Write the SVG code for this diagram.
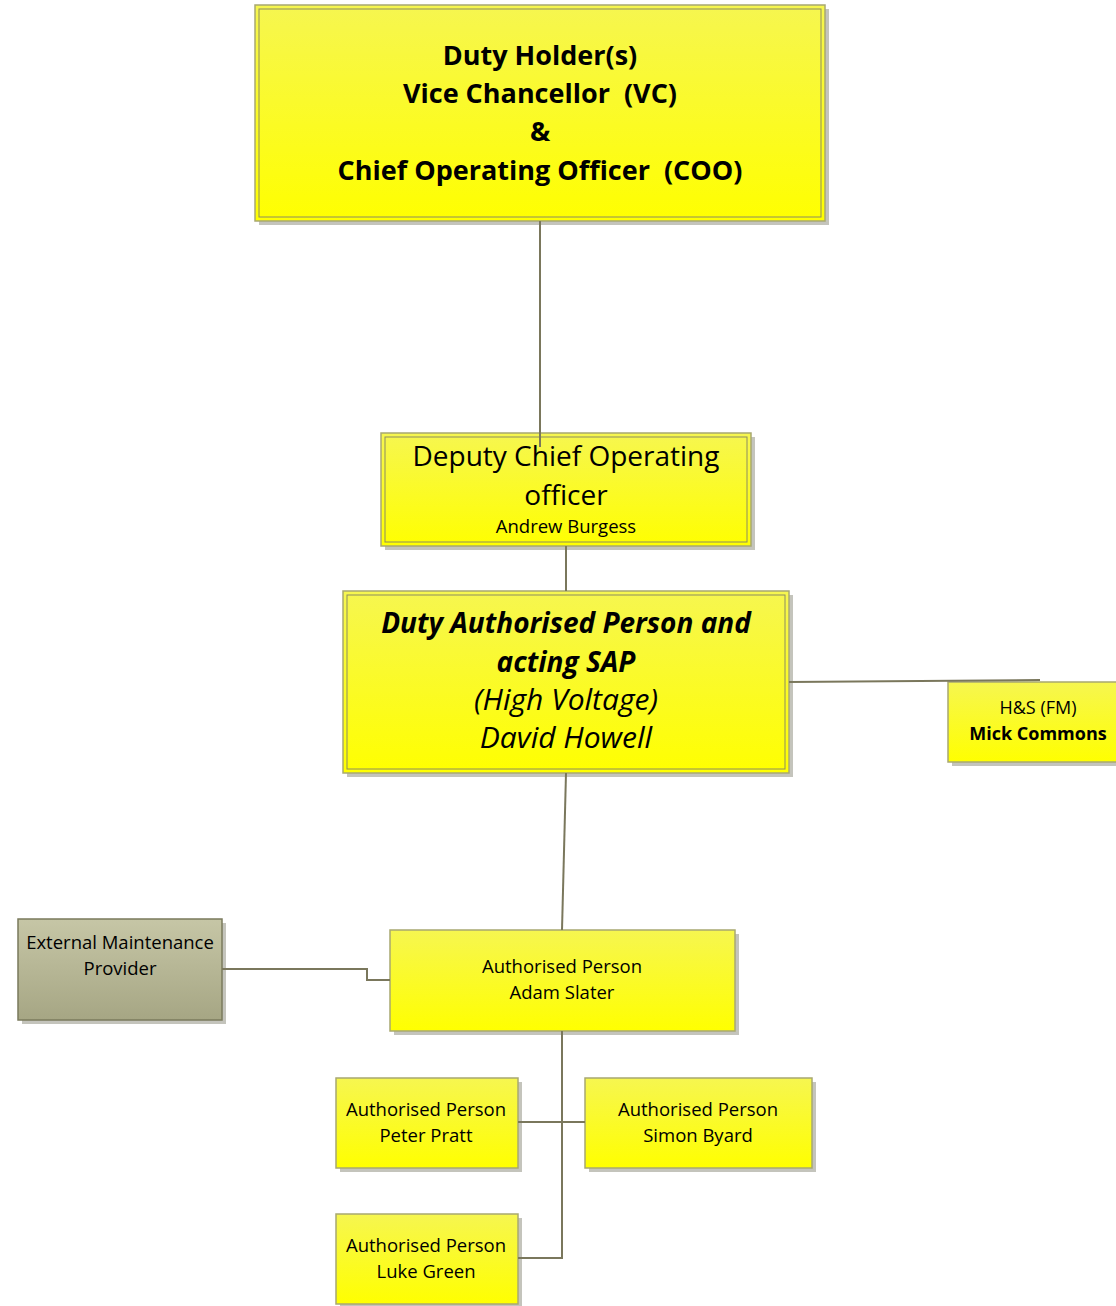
<svg xmlns="http://www.w3.org/2000/svg" width="1116" height="1306" viewBox="0 0 1116 1306">
<defs>
<linearGradient id="gy" x1="0" y1="0" x2="0" y2="1"><stop offset="0" stop-color="#f6f650"/><stop offset="1" stop-color="#ffff00"/></linearGradient>
<linearGradient id="go" x1="0" y1="0" x2="0" y2="1"><stop offset="0" stop-color="#c6c6a6"/><stop offset="1" stop-color="#a6a684"/></linearGradient>
</defs>
<style>
.sh{fill:#c4c4bc}
.bx{fill:url(#gy);stroke:#a8a870;stroke-width:1.5}
.in{fill:none;stroke:#8c8c60;stroke-width:1}
.ob{fill:url(#go);stroke:#7a7a5c;stroke-width:1.5}
text{font-family:"Open Sans","Liberation Sans",sans-serif;fill:#000;text-anchor:middle;white-space:pre}
.b{font-weight:bold}
.i{font-style:italic}
.s{font-size:18.5px}
.c{fill:none;stroke:#7a775c;stroke-width:2}
</style>
<g id="duty-holder">
<rect class="sh" x="259" y="9" width="570" height="216"/>
<rect class="bx" x="255" y="5" width="570" height="216"/>
<rect class="in" x="259" y="9" width="562" height="208"/>
<text class="b" font-size="27" x="540" y="65">Duty Holder(s)</text>
<text class="b" font-size="27" x="540" y="103" xml:space="preserve">Vice Chancellor  (VC)</text>
<text class="b" font-size="27" x="540" y="141">&amp;</text>
<text class="b" font-size="27" x="540" y="180" xml:space="preserve">Chief Operating Officer  (COO)</text>
</g>
<g id="deputy-coo">
<rect class="sh" x="385" y="437" width="370" height="113"/>
<rect class="bx" x="381" y="433" width="370" height="113"/>
<rect class="in" x="385" y="437" width="362" height="105"/>
<text font-size="28" x="566" y="466">Deputy Chief Operating</text>
<text font-size="28" x="566" y="505">officer</text>
<text font-size="18.5" x="566" y="533">Andrew Burgess</text>
</g>
<g id="duty-ap">
<rect class="sh" x="347" y="595" width="446" height="182"/>
<rect class="bx" x="343" y="591" width="446" height="182"/>
<rect class="in" x="347" y="595" width="438" height="174"/>
<text class="b i" font-size="28" x="566" y="633">Duty Authorised Person and</text>
<text class="b i" font-size="28" x="566" y="672">acting SAP</text>
<text class="i" font-size="30" x="566" y="710">(High Voltage)</text>
<text class="i" font-size="30" x="566" y="748">David Howell</text>
</g>
<g id="hs-fm">
<rect class="sh" x="952" y="686" width="170" height="80"/>
<rect class="bx" x="948" y="682" width="172" height="80"/>
<text font-size="18" x="1038" y="714">H&amp;S (FM)</text>
<text class="b" font-size="18" x="1038" y="740">Mick Commons</text>
</g>
<g id="external">
<rect class="sh" x="22" y="923" width="204" height="101"/>
<rect class="ob" x="18" y="919" width="204" height="101"/>
<text class="s" x="120" y="949">External Maintenance</text>
<text class="s" x="120" y="975">Provider</text>
</g>
<g id="adam-slater">
<rect class="sh" x="394" y="934" width="345" height="101"/>
<rect class="bx" x="390" y="930" width="345" height="101"/>
<text class="s" x="562" y="973">Authorised Person</text>
<text class="s" x="562" y="999">Adam Slater</text>
</g>
<g id="peter-pratt">
<rect class="sh" x="340" y="1082" width="182" height="90"/>
<rect class="bx" x="336" y="1078" width="182" height="90"/>
<text class="s" x="426" y="1116">Authorised Person</text>
<text class="s" x="426" y="1142">Peter Pratt</text>
</g>
<g id="simon-byard">
<rect class="sh" x="589" y="1082" width="227" height="90"/>
<rect class="bx" x="585" y="1078" width="227" height="90"/>
<text class="s" x="698" y="1116">Authorised Person</text>
<text class="s" x="698" y="1142">Simon Byard</text>
</g>
<g id="luke-green">
<rect class="sh" x="340" y="1218" width="182" height="88"/>
<rect class="bx" x="336" y="1214" width="182" height="90"/>
<text class="s" x="426" y="1252">Authorised Person</text>
<text class="s" x="426" y="1278">Luke Green</text>
</g>
<g id="connectors">
<line class="c" x1="540" y1="221" x2="540" y2="447"/>
<line class="c" x1="566" y1="546" x2="566" y2="591"/>
<line class="c" x1="789" y1="682" x2="1040" y2="680"/>
<line class="c" x1="566" y1="773" x2="562" y2="930"/>
<polyline class="c" points="222,969 367,969 367,980 390,980"/>
<polyline class="c" points="562,1031 562,1258 518,1258"/>
<line class="c" x1="518" y1="1122" x2="585" y2="1122"/>
</g>
</svg>
